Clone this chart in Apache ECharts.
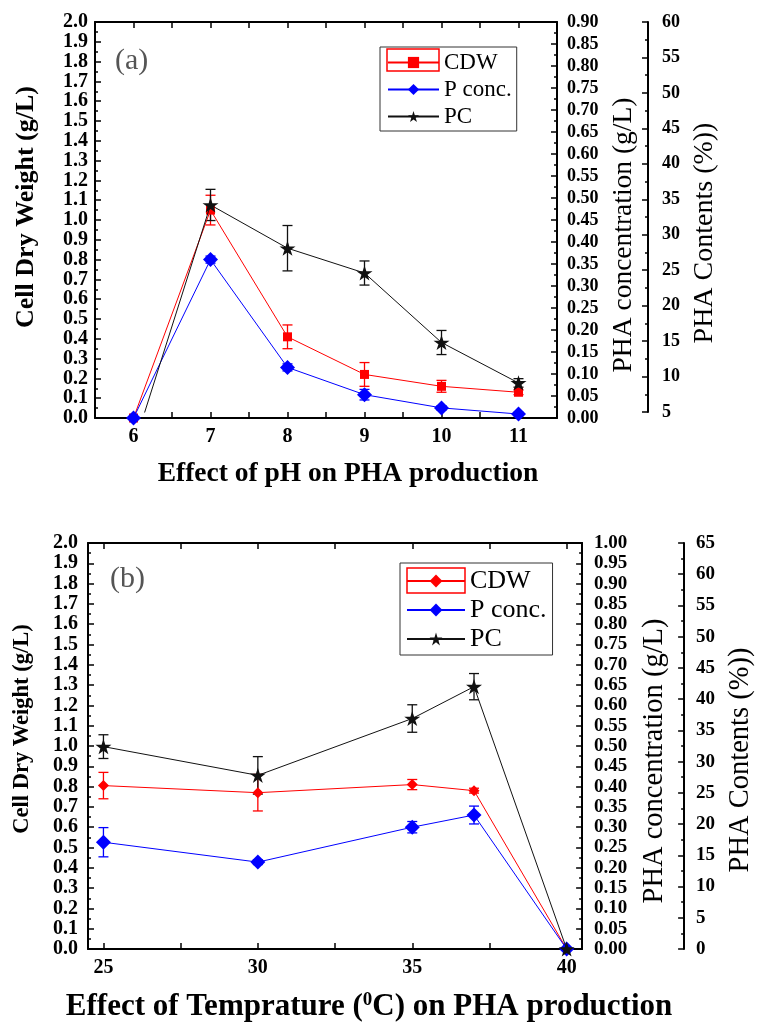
<!DOCTYPE html>
<html>
<head>
<meta charset="utf-8">
<script src="https://cdn.jsdelivr.net/npm/echarts@6/dist/echarts.min.js"></script>
<style>
html, body { margin: 0; padding: 0; background: #fff; }
#chart { width: 763px; height: 1023px; }
</style>
</head>
<body>
<div id="chart"></div>
<script>
// (a) effect of pH
const phLevels = [6, 7, 8, 9, 10, 11];
const phCdw = [0, 1.05, 0.41, 0.22, 0.16, 0.13];
const phCdwErr = [0, 0.075, 0.06, 0.06, 0.03, 0.012];
const phConc = [0, 0.36, 0.115, 0.053, 0.023, 0.009];
const phConcErr = [0, 0.008, 0.008, 0.012, 0.005, 0.004];
const phContent = [0, 34.2, 28.1, 24.6, 14.8, 9.1];
const phContentErr = [0, 2.2, 3.2, 1.7, 1.7, 0.6];
const phTicks = [6, 6.5, 7, 7.5, 8, 8.5, 9, 9.5, 10, 10.5, 11];
const phLabels = [6, 7, 8, 9, 10, 11];

// (b) effect of temperature
const tempLevels = [25, 30, 35, 37, 40];
const tempCdw = [0.805, 0.77, 0.81, 0.78, 0];
const tempCdwErr = [0.065, 0.09, 0.025, 0.012, 0];
const tempConc = [0.263, 0.214, 0.30, 0.33, 0];
const tempConcErr = [0.036, 0.006, 0.014, 0.022, 0];
const tempContent = [32.4, 27.8, 36.9, 42.0, 0];
const tempContentErr = [1.9, 3.0, 2.2, 2.1, 0];
const tempTicks = [25, 27.5, 30, 32.5, 35, 37.5, 40];
const tempLabels = [25, 30, 35, 40];

const FONT = "'Liberation Serif', 'Times New Roman', serif";
const RED = '#ff0000', BLUE = '#0000ff', BLACK = '#111111';
const STAR = 'path://M50,0 L61.2,34.5 L97.6,34.5 L68.2,55.9 L79.4,90.5 L50,69.1 L20.6,90.5 L31.8,55.9 L2.4,34.5 L38.8,34.5 Z';

function pairs(xs, ys) {
    return xs.map((x, i) => [x, ys[i]]);
}
function errPairs(xs, ys, es) {
    return xs.map((x, i) => [x, ys[i] - es[i], ys[i] + es[i]]).filter((d, i) => es[i] > 0);
}

function errRender(params, api) {
    const x = api.value(0);
    const lo = api.coord([x, api.value(1)]);
    const hi = api.coord([x, api.value(2)]);
    const color = api.visual('color');
    const w = 5;
    const st = { stroke: color, lineWidth: 1.3 };
    return {
        type: 'group',
        children: [
            { type: 'line', shape: { x1: lo[0], y1: lo[1], x2: hi[0], y2: hi[1] }, style: st },
            { type: 'line', shape: { x1: lo[0] - w, y1: lo[1], x2: lo[0] + w, y2: lo[1] }, style: st },
            { type: 'line', shape: { x1: hi[0] - w, y1: hi[1], x2: hi[0] + w, y2: hi[1] }, style: st }
        ]
    };
}

const axisLine = { show: true, onZero: false, lineStyle: { color: '#000', width: 2 } };
const tick = { show: true, inside: true, length: 6, lineStyle: { color: '#000', width: 1.5 } };
const minor = { show: true, splitNumber: 2, length: 3, lineStyle: { color: '#000', width: 1.5 } };
const noSplit = { show: false };

function labelStyle(size, digits, margin) {
    return {
        fontFamily: FONT, fontWeight: 'bold', fontSize: size, color: '#000', margin: margin,
        formatter: v => v.toFixed(digits)
    };
}
function nameStyle(size, weight, extra) {
    return Object.assign({ fontFamily: FONT, fontWeight: weight, fontSize: size, color: '#000' }, extra || {});
}

function xBottom(grid, min, max, ticks, labels, name, gap, nstyle) {
    return {
        type: 'value', gridIndex: grid, min: min, max: max, position: 'bottom',
        axisLine: axisLine, axisTick: Object.assign({}, tick, { customValues: ticks }),
        axisLabel: { customValues: labels, fontFamily: FONT, fontWeight: 'bold', fontSize: 20, color: '#000', margin: 9 },
        splitLine: noSplit,
        name: name, nameLocation: 'middle', nameGap: gap, nameTextStyle: nstyle
    };
}
function xTop(grid, min, max, ticks) {
    return {
        type: 'value', gridIndex: grid, min: min, max: max, position: 'top',
        axisLine: axisLine, axisTick: Object.assign({}, tick, { customValues: ticks }),
        axisLabel: { show: false }, splitLine: noSplit
    };
}

const option = {
    animation: false,
    backgroundColor: '#fff',
    title: [
        { text: '(a)', left: 110, top: 41, textStyle: { fontFamily: FONT, fontSize: 30, fontWeight: 'normal', color: '#555' } },
        { text: '(b)', left: 105, top: 559, textStyle: { fontFamily: FONT, fontSize: 30, fontWeight: 'normal', color: '#555' } }
    ],
    grid: [
        { left: 95, top: 22, width: 462, height: 396 },
        { left: 95, top: 22, width: 462, height: 390 },
        { left: 88, top: 543, width: 505, height: 407 }
    ],
    legend: [
        {
            data: ['CDW', 'P conc.', 'PC'], orient: 'vertical', left: 380, top: 47,
            padding: [4, 5, 3, 7], itemWidth: 51, itemHeight: 14, itemGap: 4,
            borderColor: '#333', borderWidth: 1, selectedMode: false,
            textStyle: { fontFamily: FONT, fontSize: 23, color: '#000' }
        },
        {
            data: ['CDW (b)', 'P conc. (b)', 'PC (b)'], orient: 'vertical', left: 400, top: 563,
            padding: [5, 6, 3, 6], itemWidth: 58, itemHeight: 16, itemGap: 3,
            borderColor: '#333', borderWidth: 1, selectedMode: false,
            formatter: n => n.replace(' (b)', ''),
            textStyle: { fontFamily: FONT, fontSize: 26, color: '#000' }
        }
    ],
    graphic: [
        { type: 'rect', shape: { x: 387, y: 49, width: 52, height: 22 }, style: { fill: 'none', stroke: RED, lineWidth: 1.5 }, z: 100 },
        { type: 'rect', shape: { x: 407, y: 568, width: 58, height: 25 }, style: { fill: 'none', stroke: RED, lineWidth: 1.5 }, z: 100 }
    ],
    xAxis: [
        xBottom(0, 5.5, 11.5, phTicks, phLabels, 'Effect of pH on PHA production', 42,
            nameStyle(27.5, 'bold', { padding: [0, 0, 0, 44] })),
        xTop(0, 5.5, 11.5, phTicks),
        { type: 'value', gridIndex: 1, min: 5.5, max: 11.5, show: false },
        xBottom(2, 24.5, 40.5, tempTicks, tempLabels, 'Effect of Temprature ({sup|0}C) on PHA production', 42,
            nameStyle(31, 'bold', {
                padding: [0, 0, 0, 68],
                rich: { sup: { fontFamily: FONT, fontWeight: 'bold', fontSize: 19, color: '#000', verticalAlign: 'top', padding: [0, 0, 12, 0] } }
            })),
        xTop(2, 24.5, 40.5, tempTicks)
    ],
    yAxis: [
        {
            type: 'value', gridIndex: 0, min: 0, max: 2, interval: 0.1, position: 'left',
            axisLine: axisLine, axisTick: tick, minorTick: minor, splitLine: noSplit,
            axisLabel: labelStyle(20, 1, 7),
            name: 'Cell Dry Weight (g/L)', nameLocation: 'middle', nameRotate: 90, nameGap: 56,
            nameTextStyle: nameStyle(26, 'bold', { padding: [0, 0, 0, 26] })
        },
        {
            type: 'value', gridIndex: 0, min: 0, max: 0.9, interval: 0.05, position: 'right',
            axisLine: axisLine, axisTick: tick, minorTick: minor, splitLine: noSplit,
            axisLabel: labelStyle(18, 2, 10),
            name: 'PHA concentration (g/L)', nameLocation: 'middle', nameRotate: 90, nameGap: 52,
            nameTextStyle: nameStyle(27.5, 'normal', { padding: [0, 30, 0, 0] })
        },
        {
            type: 'value', gridIndex: 1, min: 5, max: 60, interval: 5, position: 'right', offset: 91,
            axisLine: axisLine, axisTick: tick, minorTick: minor, splitLine: noSplit,
            axisLabel: labelStyle(18, 0, 14),
            name: 'PHA Contents (%))', nameLocation: 'middle', nameRotate: 90, nameGap: 38,
            nameTextStyle: nameStyle(28, 'normal', { padding: [0, 32, 0, 0] })
        },
        {
            type: 'value', gridIndex: 2, min: 0, max: 2, interval: 0.1, position: 'left',
            axisLine: axisLine, axisTick: tick, minorTick: minor, splitLine: noSplit,
            axisLabel: labelStyle(20, 1, 10),
            name: 'Cell Dry Weight (g/L)', nameLocation: 'middle', nameRotate: 90, nameGap: 54,
            nameTextStyle: nameStyle(22.5, 'bold', { padding: [0, 0, 0, 34] })
        },
        {
            type: 'value', gridIndex: 2, min: 0, max: 1, interval: 0.05, position: 'right',
            axisLine: axisLine, axisTick: tick, minorTick: minor, splitLine: noSplit,
            axisLabel: labelStyle(19, 2, 12),
            name: 'PHA concentration (g/L)', nameLocation: 'middle', nameRotate: 90, nameGap: 58,
            nameTextStyle: nameStyle(28.5, 'normal', { padding: [0, 30, 0, 0] })
        },
        {
            type: 'value', gridIndex: 2, min: 0, max: 65, interval: 5, position: 'right', offset: 102,
            axisLine: axisLine, axisTick: tick, minorTick: minor, splitLine: noSplit,
            axisLabel: labelStyle(19, 0, 12),
            name: 'PHA Contents (%))', nameLocation: 'middle', nameRotate: 90, nameGap: 41,
            nameTextStyle: nameStyle(28.5, 'normal', { padding: [0, 28, 0, 0] })
        }
    ],
    series: [
        // (a)
        { type: 'custom', name: 'CDW err', xAxisIndex: 0, yAxisIndex: 0, renderItem: errRender,
          data: errPairs(phLevels, phCdw, phCdwErr), encode: { x: 0, y: [1, 2] }, itemStyle: { color: RED }, z: 2, silent: true },
        { type: 'custom', name: 'P conc. err', xAxisIndex: 0, yAxisIndex: 1, renderItem: errRender,
          data: errPairs(phLevels, phConc, phConcErr), encode: { x: 0, y: [1, 2] }, itemStyle: { color: BLUE }, z: 2, silent: true },
        { type: 'custom', name: 'PC err', xAxisIndex: 2, yAxisIndex: 2, renderItem: errRender,
          data: errPairs(phLevels, phContent, phContentErr), encode: { x: 0, y: [1, 2] }, itemStyle: { color: BLACK }, z: 2, silent: true },
        { type: 'line', name: 'CDW', xAxisIndex: 0, yAxisIndex: 0, data: pairs(phLevels, phCdw),
          symbol: 'rect', symbolSize: 9, itemStyle: { color: RED }, lineStyle: { color: RED, width: 1 }, z: 3 },
        { type: 'line', name: 'P conc.', xAxisIndex: 0, yAxisIndex: 1, data: pairs(phLevels, phConc),
          symbol: 'diamond', symbolSize: 15, itemStyle: { color: BLUE }, lineStyle: { color: BLUE, width: 1 }, z: 3 },
        { type: 'line', name: 'PC', xAxisIndex: 2, yAxisIndex: 2, data: pairs(phLevels, phContent),
          symbol: STAR, symbolSize: 16, symbolKeepAspect: true, itemStyle: { color: BLACK }, lineStyle: { color: BLACK, width: 1 }, z: 4 },
        // (b)
        { type: 'custom', name: 'CDW err (b)', xAxisIndex: 3, yAxisIndex: 3, renderItem: errRender,
          data: errPairs(tempLevels, tempCdw, tempCdwErr), encode: { x: 0, y: [1, 2] }, itemStyle: { color: RED }, z: 2, silent: true },
        { type: 'custom', name: 'P conc. err (b)', xAxisIndex: 3, yAxisIndex: 4, renderItem: errRender,
          data: errPairs(tempLevels, tempConc, tempConcErr), encode: { x: 0, y: [1, 2] }, itemStyle: { color: BLUE }, z: 2, silent: true },
        { type: 'custom', name: 'PC err (b)', xAxisIndex: 3, yAxisIndex: 5, renderItem: errRender,
          data: errPairs(tempLevels, tempContent, tempContentErr), encode: { x: 0, y: [1, 2] }, itemStyle: { color: BLACK }, z: 2, silent: true },
        { type: 'line', name: 'CDW (b)', xAxisIndex: 3, yAxisIndex: 3, data: pairs(tempLevels, tempCdw),
          symbol: 'diamond', symbolSize: 11, itemStyle: { color: RED }, lineStyle: { color: RED, width: 1 }, z: 3 },
        { type: 'line', name: 'P conc. (b)', xAxisIndex: 3, yAxisIndex: 4, data: pairs(tempLevels, tempConc),
          symbol: 'diamond', symbolSize: 15, itemStyle: { color: BLUE }, lineStyle: { color: BLUE, width: 1 }, z: 3 },
        { type: 'line', name: 'PC (b)', xAxisIndex: 3, yAxisIndex: 5, data: pairs(tempLevels, tempContent),
          symbol: STAR, symbolSize: 16, symbolKeepAspect: true, itemStyle: { color: BLACK }, lineStyle: { color: BLACK, width: 1 }, z: 4 }
    ]
};

const chart = echarts.init(document.getElementById('chart'));
chart.setOption(option);
</script>
</body>
</html>
